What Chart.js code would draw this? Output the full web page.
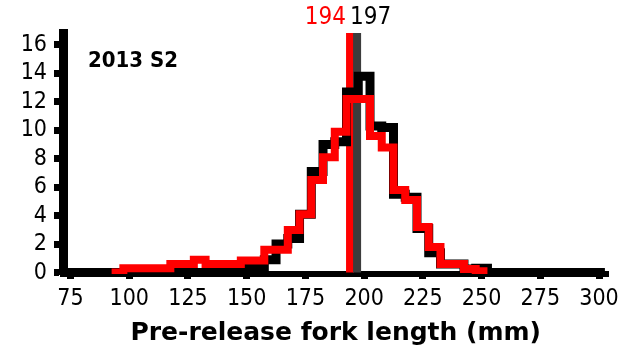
<!DOCTYPE html>
<html>
<head>
<meta charset="utf-8">
<script src="https://cdn.jsdelivr.net/npm/chart.js@4.4.1/dist/chart.umd.min.js"></script>
<style>
  html, body { margin: 0; padding: 0; background: #fff; }
  #wrap { width: 625px; height: 351px; position: relative; }
</style>
</head>
<body>
<div id="wrap"><canvas id="chart"></canvas></div>
<script>
// 5 mm bins, labelled by their centre (mm)
const BIN_CENTERS = [75, 80, 85, 90, 95, 100, 105, 110, 115, 120, 125, 130, 135, 140, 145,
  150, 155, 160, 165, 170, 175, 180, 185, 190, 195, 200, 205, 210, 215, 220, 225,
  230, 235, 240, 245, 250, 255, 260, 265, 270, 275, 280, 285, 290, 295, 300];

// percentage of fish per bin (null = series not drawn there)
const BLACK_PCT = [0, 0, 0, 0, 0, 0, 0, 0, 0, 0, 0, 0, 0, 0, 0,
  0.3, 0.3, 0.9, 2.0, 2.4, 4.1, 7.1, 9.0, 9.2, 12.7, 13.8, 10.3, 10.2, 5.5, 5.3, 3.1,
  1.4, 0.6, 0.6, 0.25, 0.3, 0, 0, 0, 0, 0, 0, 0, 0, 0, 0];
const RED_PCT = [null, null, null, null, 0, 0.3, 0.3, 0.3, 0.3, 0.6, 0.6, 0.9, 0.6, 0.6, 0.6,
  0.85, 0.85, 1.6, 1.6, 3.0, 4.1, 6.5, 8.1, 9.9, 12.2, 12.2, 9.6, 8.8, 5.8, 5.1, 3.2,
  1.8, 0.6, 0.6, 0.25, 0.1, null, null, null, null, null, null, null, null, null, null];

const X_TICKS = [75, 100, 125, 150, 175, 200, 225, 250, 275, 300];
const Y_TICKS = [0, 2, 4, 6, 8, 10, 12, 14, 16];

const MEDIANS = [194, 197];
const PANEL_LABEL = '2013 S2';

const BIN_HALF = 2.5;
const FONT = '"DejaVu Sans Condensed", "DejaVu Sans", sans-serif';

// turn per-bin values into step points at bin edges
function toSteps(values) {
  const pts = [];
  let last = null;
  values.forEach((v, i) => {
    if (v === null) return;
    pts.push({ x: BIN_CENTERS[i] - BIN_HALF, y: v });
    last = i;
  });
  if (last !== null) pts.push({ x: BIN_CENTERS[last] + BIN_HALF, y: values[last] });
  return pts;
}

const medianPlugin = {
  id: 'medians',
  beforeDatasetsDraw(chart) {
    const { ctx, chartArea, scales } = chart;
    const colors = ['#ff0000', '#3c3c3c'];
    ctx.save();
    MEDIANS.forEach((m, i) => {
      const x = scales.x.getPixelForValue(m);
      ctx.strokeStyle = colors[i];
      ctx.lineWidth = 8;
      ctx.beginPath();
      ctx.moveTo(x, chartArea.top);
      ctx.lineTo(x, scales.y.getPixelForValue(0));
      ctx.stroke();
    });
    ctx.restore();
  },
  afterDraw(chart) {
    const { ctx, chartArea, scales } = chart;
    ctx.save();
    ctx.font = '24px ' + FONT;
    ctx.textBaseline = 'alphabetic';
    const x0 = scales.x.getPixelForValue(MEDIANS[0]);
    const x1 = scales.x.getPixelForValue(MEDIANS[1]);
    ctx.fillStyle = '#ff0000';
    ctx.textAlign = 'right';
    ctx.fillText(String(MEDIANS[0]), x0 - 4, 24);
    ctx.fillStyle = '#000';
    ctx.textAlign = 'left';
    ctx.fillText(String(MEDIANS[1]), x1 - 7, 24);

    ctx.font = 'bold 22px ' + FONT;
    ctx.textAlign = 'left';
    ctx.fillText(PANEL_LABEL, chartArea.left + 25, 67);
    ctx.restore();
  }
};

new Chart(document.getElementById('chart'), {
  type: 'line',
  data: {
    datasets: [
      {
        label: 'red',
        data: toSteps(RED_PCT),
        borderColor: '#ff0000',
        borderWidth: 8,
        stepped: 'before',
        pointRadius: 0,
        fill: false,
      },
      {
        label: 'black',
        data: toSteps(BLACK_PCT),
        borderColor: '#000000',
        borderWidth: 9,
        stepped: 'before',
        pointRadius: 0,
        fill: false,
      },
    ],
  },
  options: {
    responsive: true,
    maintainAspectRatio: false,
    animation: false,
    devicePixelRatio: 1,
    layout: { padding: { top: 33, right: 13, left: 0, bottom: 0 } },
    plugins: {
      legend: { display: false },
      tooltip: { enabled: false },
    },
    scales: {
      x: {
        type: 'linear',
        min: 71.8,
        max: 304,
        afterBuildTicks: (s) => { s.ticks = X_TICKS.map(v => ({ value: v })); },
        afterFit: (s) => { s.height = 77; },
        grid: { drawOnChartArea: false, tickLength: 5, tickWidth: 7, tickColor: '#000' },
        border: { display: true, color: '#000', width: 6 },
        ticks: { color: '#000', font: { family: FONT, size: 23 }, padding: 6, maxRotation: 0, autoSkip: false },
        title: {
          display: true,
          text: 'Pre-release fork length (mm)',
          color: '#000',
          font: { family: '"DejaVu Sans", sans-serif', size: 25, weight: 'bold' },
          padding: { top: 0, bottom: 3 },
        },
      },
      y: {
        min: -0.1,
        max: 16.84,
        afterBuildTicks: (s) => { s.ticks = Y_TICKS.map(v => ({ value: v })); },
        afterFit: (s) => { s.width = 63; },
        grid: { drawOnChartArea: false, tickLength: 9, tickWidth: 7, tickColor: '#000' },
        border: { display: true, color: '#000', width: 9 },
        ticks: { color: '#000', font: { family: FONT, size: 23 }, padding: 7, autoSkip: false },
      },
    },
  },
  plugins: [medianPlugin],
});
</script>
</body>
</html>
